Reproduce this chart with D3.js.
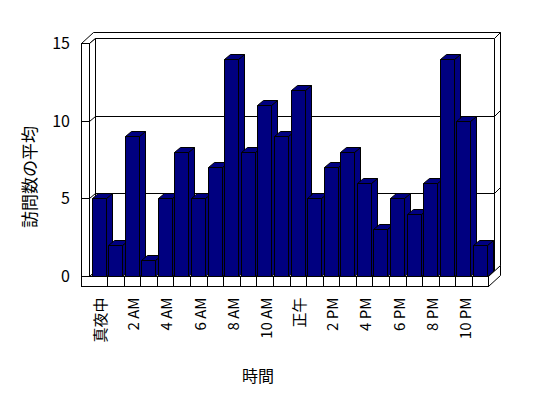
<!DOCTYPE html>
<html>
<head>
<meta charset="utf-8">
<script src="https://cdn.jsdelivr.net/npm/d3@7"></script>
<style>
    body { margin: 0; background: #fff; }
    svg text { font-family: "Noto Sans CJK JP", "Noto Sans", sans-serif; fill: #000; }
</style>
</head>
<body>
<div id="chart"></div>
<script>
// hourly categories, values
const categories = ["真夜中", "1 AM", "2 AM", "3 AM", "4 AM", "5 AM", "6 AM", "7 AM", "8 AM", "9 AM", "10 AM", "11 AM",
                    "正午", "1 PM", "2 PM", "3 PM", "4 PM", "5 PM", "6 PM", "7 PM", "8 PM", "9 PM", "10 PM", "11 PM"];
const visits = [5, 2, 9, 1, 5, 8, 5, 7, 14, 8, 11, 9, 12, 5, 7, 8, 6, 3, 5, 4, 6, 14, 10, 2];
const yTicks = [0, 5, 10, 15];
const gridTicks = [5, 10];
const xTitle = "時間";
const yTitle = "訪問数の平均";

const width = 548, height = 398;
const fill = "#000080";

// front plane
const left = 81.5, wall = 8, floorTop = 276.5, floorBottom = 286.5, right = 488.5;
// depth offsets: inner wall and outer wall
const d1 = { x: 6, y: -5 }, d2 = { x: 12, y: -11 };

const svg = d3.select("#chart")
    .append("svg")
    .attr("width", width)
    .attr("height", height);

const x = d3.scaleBand()
    .domain(categories)
    .range([left + wall + 1, right])
    .padding(0);

const y = d3.scaleLinear()
    .domain([0, 15])
    .range([floorTop, 43.5]);

const py = v => Math.round(y(v) - 0.5) + 0.5;
const pt = (a) => a.map(p => p.join(",")).join(" ");
const box = svg.append("g")
    .attr("fill", "#fff")
    .attr("stroke", "#000")
    .attr("stroke-width", 1);

const x0 = left + wall, yTop = py(15);

// back wall inner face
box.append("rect")
    .attr("x", x0 + d1.x).attr("y", yTop + d1.y)
    .attr("width", right - x0).attr("height", floorTop - yTop);

// top of the walls
box.append("polygon")
    .attr("points", pt([[left, yTop], [x0, yTop], [x0 + d1.x, yTop + d1.y], [right + d1.x, yTop + d1.y],
                        [right + d2.x, yTop + d2.y], [left + d2.x, yTop + d2.y]]));

// back wall right face
box.append("polygon")
    .attr("points", pt([[right + d1.x, yTop + d1.y], [right + d2.x, yTop + d2.y],
                        [right + d2.x, floorTop + d2.y], [right + d1.x, floorTop + d1.y]]));

// left wall inner face
box.append("polygon")
    .attr("points", pt([[x0, yTop], [x0 + d1.x, yTop + d1.y], [x0 + d1.x, floorTop + d1.y], [x0, floorTop]]));

// floor top
box.append("polygon")
    .attr("points", pt([[x0, floorTop], [x0 + d1.x, floorTop + d1.y], [right + d1.x, floorTop + d1.y], [right, floorTop]]));

// floor right face
box.append("polygon")
    .attr("points", pt([[right, floorTop], [right + d2.x, floorTop + d2.y], [right + d2.x, floorBottom + d2.y], [right, floorBottom]]));

// left wall front face
box.append("rect")
    .attr("x", left).attr("y", yTop)
    .attr("width", wall).attr("height", floorTop - yTop);

// floor front face
box.append("rect")
    .attr("x", left).attr("y", floorTop)
    .attr("width", right - left).attr("height", floorBottom - floorTop);

// category dividers on the floor edge
box.selectAll(".divider")
    .data(categories.slice(1))
    .enter().append("line")
    .attr("class", "divider")
    .attr("x1", d => Math.round(x(d)) + 0.5).attr("x2", d => Math.round(x(d)) + 0.5)
    .attr("y1", floorTop).attr("y2", floorBottom);

// gridlines: front face, side wall, back wall
const grid = svg.append("g").attr("stroke", "#000").attr("fill", "none");
gridTicks.forEach(v => {
    grid.append("polyline")
        .attr("points", pt([[left, py(v)], [x0, py(v)], [x0 + d1.x, py(v) + d1.y], [right + d1.x, py(v) + d1.y],
                            [right + d2.x, py(v) + d2.y]]));
});

// bars
const bw = Math.round(x.bandwidth() * 0.85);
const bars = svg.append("g")
    .attr("fill", fill)
    .attr("stroke", "#000")
    .attr("stroke-linejoin", "round");

categories.forEach((c, i) => {
    const bx = Math.round(x(c)) + 1.5, by = py(visits[i]), base = py(0);
    const g = bars.append("g").attr("class", "bar");
    g.append("polygon")
        .attr("points", pt([[bx + bw, by], [bx + bw + d1.x, by + d1.y], [bx + bw + d1.x, base + d1.y], [bx + bw, base]]));
    g.append("polygon")
        .attr("points", pt([[bx, by], [bx + d1.x, by + d1.y], [bx + bw + d1.x, by + d1.y], [bx + bw, by]]));
    g.append("rect")
        .attr("x", bx).attr("y", by)
        .attr("width", bw).attr("height", base - by);
});

// y axis labels
const yAxis = d3.axisLeft(y).tickValues(yTicks).tickSize(0).tickPadding(0);
svg.append("g")
    .attr("class", "y-axis")
    .attr("transform", "translate(70,0)")
    .call(yAxis)
    .call(g => g.select(".domain").remove())
    .selectAll("text")
    .attr("font-size", "16px")
    .attr("font-family", "\"Noto Sans CJK JP\", sans-serif");

// x axis labels, every other hour, rotated
const xAxis = d3.axisBottom(x).tickSize(0).tickFormat((d, i) => i % 2 ? "" : d);
svg.append("g")
    .attr("class", "x-axis")
    .attr("transform", `translate(2,${floorBottom})`)
    .call(xAxis)
    .call(g => g.select(".domain").remove())
    .selectAll("text")
    .attr("font-size", "15px")
    .attr("font-family", "\"Noto Sans CJK JP\", sans-serif")
    .attr("y", 0)
    .attr("x", -11)
    .attr("dy", "0.35em")
    .attr("transform", "rotate(-90)")
    .style("text-anchor", "end");

// axis titles
svg.append("text")
    .attr("x", 258)
    .attr("y", 376)
    .attr("dy", "0.35em")
    .attr("font-size", "16px")
    .style("text-anchor", "middle")
    .text(xTitle);

svg.append("text")
    .attr("transform", "translate(30,177) rotate(-90)")
    .attr("dy", "0.35em")
    .attr("font-size", "17px")
    .style("text-anchor", "middle")
    .text(yTitle);
</script>
</body>
</html>
